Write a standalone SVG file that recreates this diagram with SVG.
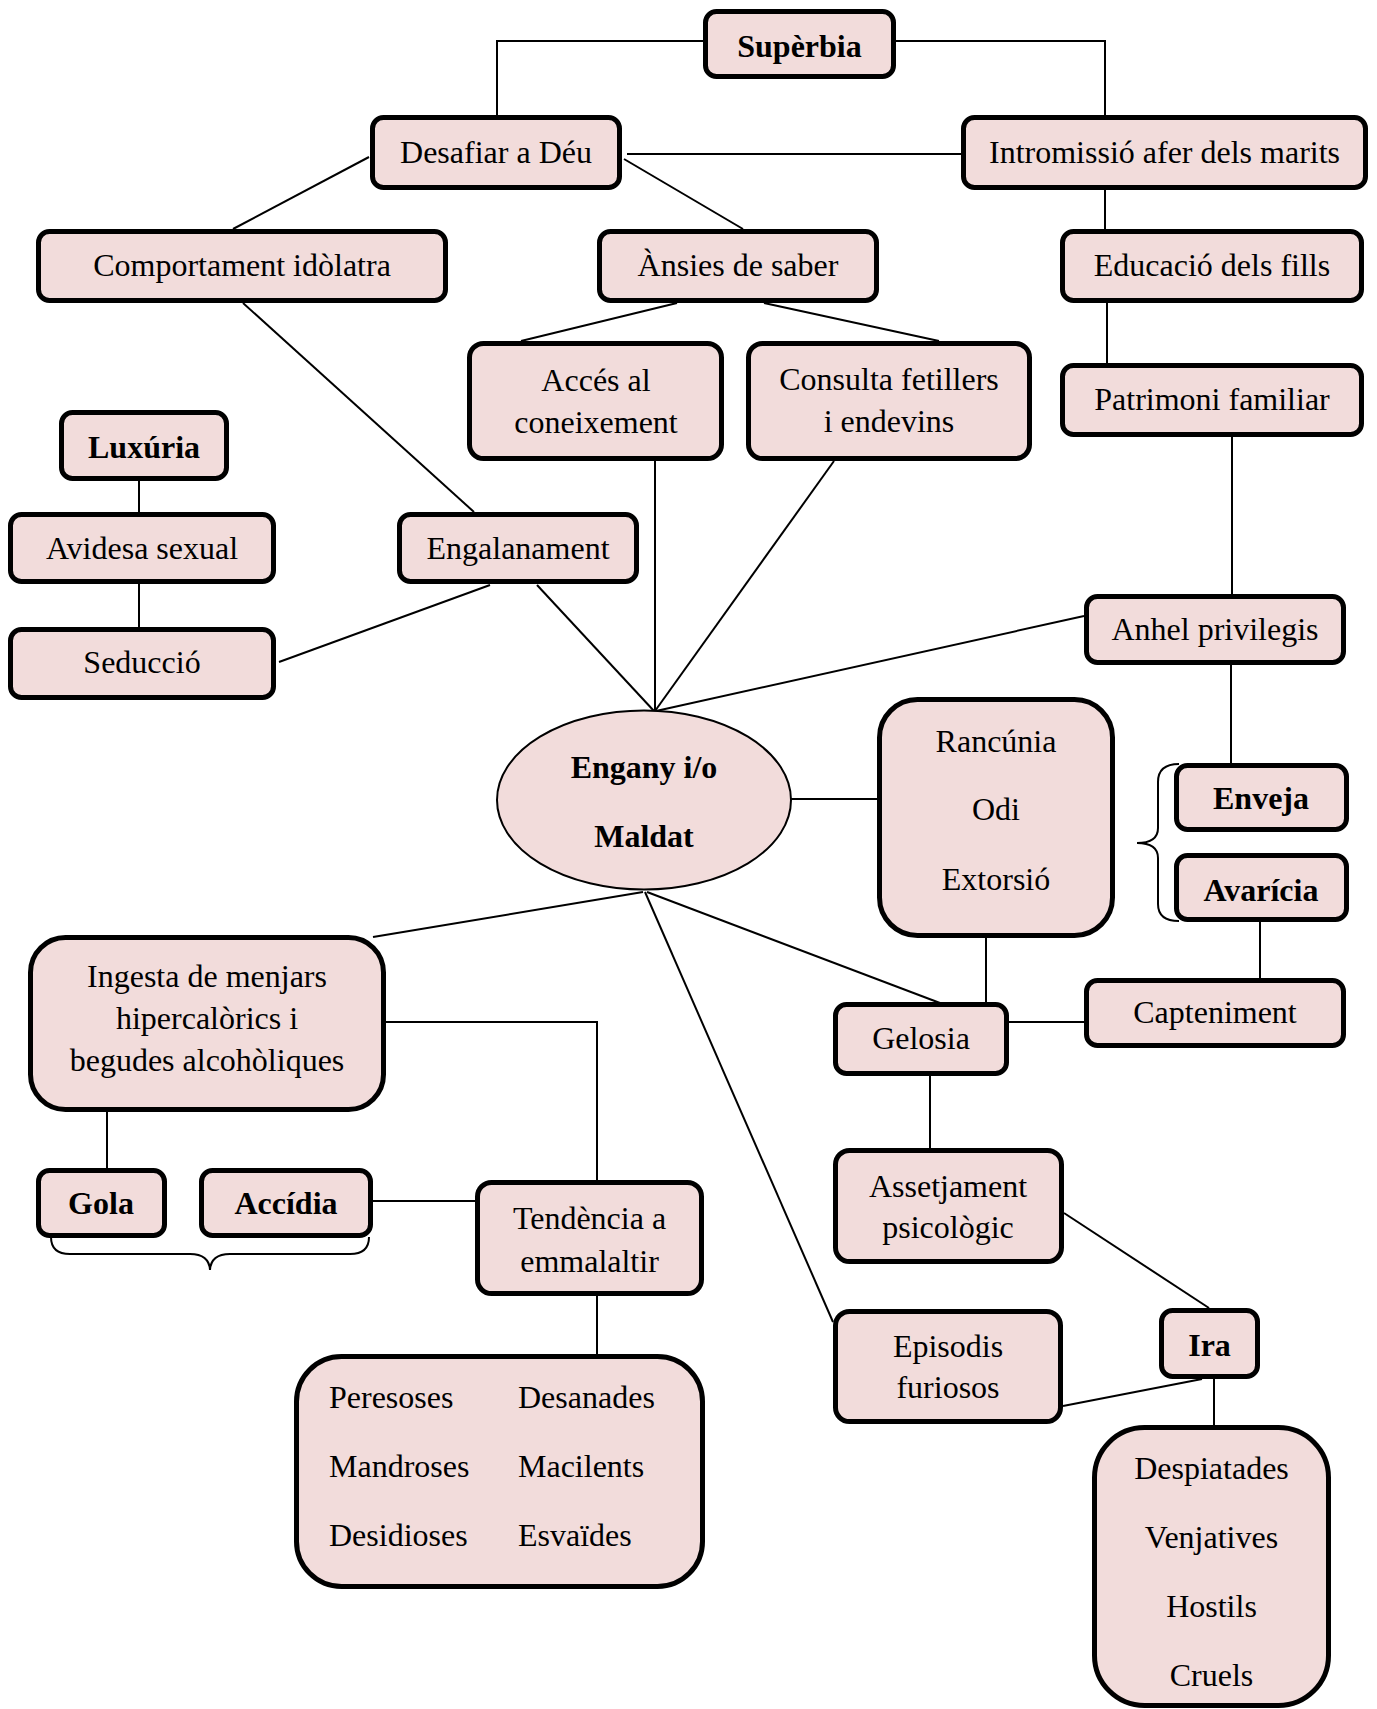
<svg xmlns="http://www.w3.org/2000/svg" width="1377" height="1709" viewBox="0 0 1377 1709">
<style>
.b{fill:#f2dcdb;stroke:#000;stroke-width:5}
.e{fill:#f2dcdb;stroke:#000;stroke-width:2}
.c{fill:none;stroke:#000;stroke-width:2}
.t{font-family:"Liberation Serif","Times New Roman",serif;font-size:32px;fill:#000;text-anchor:middle}
.l{font-family:"Liberation Serif","Times New Roman",serif;font-size:32px;fill:#000}
.bd{font-weight:bold}
</style>
<rect width="1377" height="1709" fill="#fff"/>
<g id="connectors">
<polyline class="c" points="497,115 497,41 703,41"/>
<polyline class="c" points="896,41 1105,41 1105,115"/>
<line class="c" x1="627" y1="154" x2="961" y2="154"/>
<line class="c" x1="369" y1="157" x2="233" y2="229"/>
<line class="c" x1="624" y1="159" x2="743" y2="229"/>
<line class="c" x1="1105" y1="190" x2="1105" y2="229"/>
<line class="c" x1="1107" y1="303" x2="1107" y2="363"/>
<line class="c" x1="677" y1="303" x2="521" y2="341"/>
<line class="c" x1="764" y1="303" x2="939" y2="341"/>
<line class="c" x1="243" y1="303" x2="474" y2="512"/>
<line class="c" x1="139" y1="481" x2="139" y2="512"/>
<line class="c" x1="139" y1="584" x2="139" y2="627"/>
<line class="c" x1="279" y1="662" x2="490" y2="585"/>
<line class="c" x1="537" y1="585" x2="654" y2="711"/>
<line class="c" x1="655" y1="461" x2="655" y2="711"/>
<line class="c" x1="834" y1="461" x2="655" y2="711"/>
<line class="c" x1="1084" y1="616" x2="656" y2="711"/>
<line class="c" x1="1232" y1="437" x2="1232" y2="594"/>
<line class="c" x1="1231" y1="665" x2="1231" y2="763"/>
<line class="c" x1="791" y1="799" x2="877" y2="799"/>
<path class="c" d="M1179,764 Q1158,764 1158,782 L1158,828 Q1158,843 1137,843 Q1158,843 1158,858 L1158,904 Q1158,921 1179,921"/>
<line class="c" x1="1260" y1="922" x2="1260" y2="978"/>
<line class="c" x1="1084" y1="1022" x2="1009" y2="1022"/>
<line class="c" x1="986" y1="938" x2="986" y2="1002"/>
<line class="c" x1="647" y1="892" x2="940" y2="1003"/>
<line class="c" x1="643" y1="892" x2="373" y2="937"/>
<line class="c" x1="645" y1="892" x2="833" y2="1322"/>
<line class="c" x1="930" y1="1076" x2="930" y2="1148"/>
<line class="c" x1="1064" y1="1213" x2="1209" y2="1308"/>
<line class="c" x1="1202" y1="1379" x2="1063" y2="1406"/>
<line class="c" x1="1214" y1="1379" x2="1214" y2="1425"/>
<line class="c" x1="107" y1="1112" x2="107" y2="1168"/>
<polyline class="c" points="386,1022 597,1022 597,1180"/>
<line class="c" x1="373" y1="1201" x2="475" y2="1201"/>
<line class="c" x1="597" y1="1296" x2="597" y2="1354"/>
<path class="c" d="M51,1237 Q51,1254 70,1254 L190,1254 Q209,1254 210,1270 Q211,1254 230,1254 L350,1254 Q369,1254 369,1237"/>
</g>
<g id="superbia"><rect class="b" x="705.5" y="11.5" width="188" height="65" rx="11"/><text class="t bd" x="799.5" y="57">Supèrbia</text></g>
<g id="desafiar"><rect class="b" x="372.5" y="117.5" width="247" height="70" rx="11"/><text class="t" x="496" y="163">Desafiar a Déu</text></g>
<g id="intromissio"><rect class="b" x="963.5" y="117.5" width="402" height="70" rx="11"/><text class="t" x="1164.5" y="163">Intromissió afer dels marits</text></g>
<g id="comportament"><rect class="b" x="38.5" y="231.5" width="407" height="69" rx="11"/><text class="t" x="242" y="276">Comportament idòlatra</text></g>
<g id="ansies"><rect class="b" x="599.5" y="231.5" width="277" height="69" rx="11"/><text class="t" x="738" y="276">Ànsies de saber</text></g>
<g id="educacio"><rect class="b" x="1062.5" y="231.5" width="299" height="69" rx="11"/><text class="t" x="1212" y="276">Educació dels fills</text></g>
<g id="acces"><rect class="b" x="469.5" y="343.5" width="252" height="115" rx="14"/><text class="t" x="596" y="391">Accés al</text><text class="t" x="596" y="433">coneixement</text></g>
<g id="consulta"><rect class="b" x="748.5" y="343.5" width="281" height="115" rx="14"/><text class="t" x="889" y="390">Consulta fetillers</text><text class="t" x="889" y="432">i endevins</text></g>
<g id="patrimoni"><rect class="b" x="1062.5" y="365.5" width="299" height="69" rx="11"/><text class="t" x="1212" y="410">Patrimoni familiar</text></g>
<g id="luxuria"><rect class="b" x="61.5" y="412.5" width="165" height="66" rx="11"/><text class="t bd" x="144" y="458">Luxúria</text></g>
<g id="avidesa"><rect class="b" x="10.5" y="514.5" width="263" height="67" rx="11"/><text class="t" x="142" y="559">Avidesa sexual</text></g>
<g id="engalanament"><rect class="b" x="399.5" y="514.5" width="237" height="67" rx="11"/><text class="t" x="518" y="559">Engalanament</text></g>
<g id="seduccio"><rect class="b" x="10.5" y="629.5" width="263" height="68" rx="11"/><text class="t" x="142" y="673">Seducció</text></g>
<g id="anhel"><rect class="b" x="1086.5" y="596.5" width="257" height="66" rx="11"/><text class="t" x="1215" y="640">Anhel privilegis</text></g>
<g id="engany"><ellipse class="e" cx="644" cy="800" rx="147" ry="89.5"/><text class="t bd" x="644" y="778">Engany i/o</text><text class="t bd" x="644" y="847">Maldat</text></g>
<g id="rancunia"><rect class="b" x="879.5" y="699.5" width="233" height="236" rx="38"/><text class="t" x="996" y="752">Rancúnia</text><text class="t" x="996" y="820">Odi</text><text class="t" x="996" y="890">Extorsió</text></g>
<g id="enveja"><rect class="b" x="1176.5" y="765.5" width="170" height="64" rx="11"/><text class="t bd" x="1261" y="809">Enveja</text></g>
<g id="avaricia"><rect class="b" x="1176.5" y="855.5" width="170" height="64" rx="11"/><text class="t bd" x="1261" y="901">Avarícia</text></g>
<g id="ingesta"><rect class="b" x="30.5" y="937.5" width="353" height="172" rx="35"/><text class="t" x="207" y="987">Ingesta de menjars</text><text class="t" x="207" y="1029">hipercalòrics i</text><text class="t" x="207" y="1071">begudes alcohòliques</text></g>
<g id="gelosia"><rect class="b" x="835.5" y="1004.5" width="171" height="69" rx="11"/><text class="t" x="921" y="1049">Gelosia</text></g>
<g id="capteniment"><rect class="b" x="1086.5" y="980.5" width="257" height="65" rx="11"/><text class="t" x="1215" y="1023">Capteniment</text></g>
<g id="assetjament"><rect class="b" x="835.5" y="1150.5" width="226" height="111" rx="14"/><text class="t" x="948" y="1197">Assetjament</text><text class="t" x="948" y="1238">psicològic</text></g>
<g id="gola"><rect class="b" x="38.5" y="1170.5" width="126" height="65" rx="11"/><text class="t bd" x="101" y="1214">Gola</text></g>
<g id="accidia"><rect class="b" x="201.5" y="1170.5" width="169" height="65" rx="11"/><text class="t bd" x="286" y="1214">Accídia</text></g>
<g id="tendencia"><rect class="b" x="477.5" y="1182.5" width="224" height="111" rx="14"/><text class="t" x="589.5" y="1229">Tendència a</text><text class="t" x="589.5" y="1272">emmalaltir</text></g>
<g id="ira"><rect class="b" x="1161.5" y="1310.5" width="96" height="66" rx="11"/><text class="t bd" x="1209.5" y="1356">Ira</text></g>
<g id="episodis"><rect class="b" x="835.5" y="1311.5" width="225" height="110" rx="14"/><text class="t" x="948" y="1357">Episodis</text><text class="t" x="948" y="1398">furiosos</text></g>
<g id="peresoses"><rect class="b" x="296.5" y="1356.5" width="406" height="230" rx="45"/>
<text class="l" x="329" y="1408">Peresoses</text><text class="l" x="518" y="1408">Desanades</text>
<text class="l" x="329" y="1477">Mandroses</text><text class="l" x="518" y="1477">Macilents</text>
<text class="l" x="329" y="1546">Desidioses</text><text class="l" x="518" y="1546">Esvaïdes</text></g>
<g id="despiatades"><rect class="b" x="1094.5" y="1427.5" width="234" height="278" rx="50"/><text class="t" x="1211.5" y="1479">Despiatades</text><text class="t" x="1211.5" y="1548">Venjatives</text><text class="t" x="1211.5" y="1617">Hostils</text><text class="t" x="1211.5" y="1686">Cruels</text></g>
</svg>
